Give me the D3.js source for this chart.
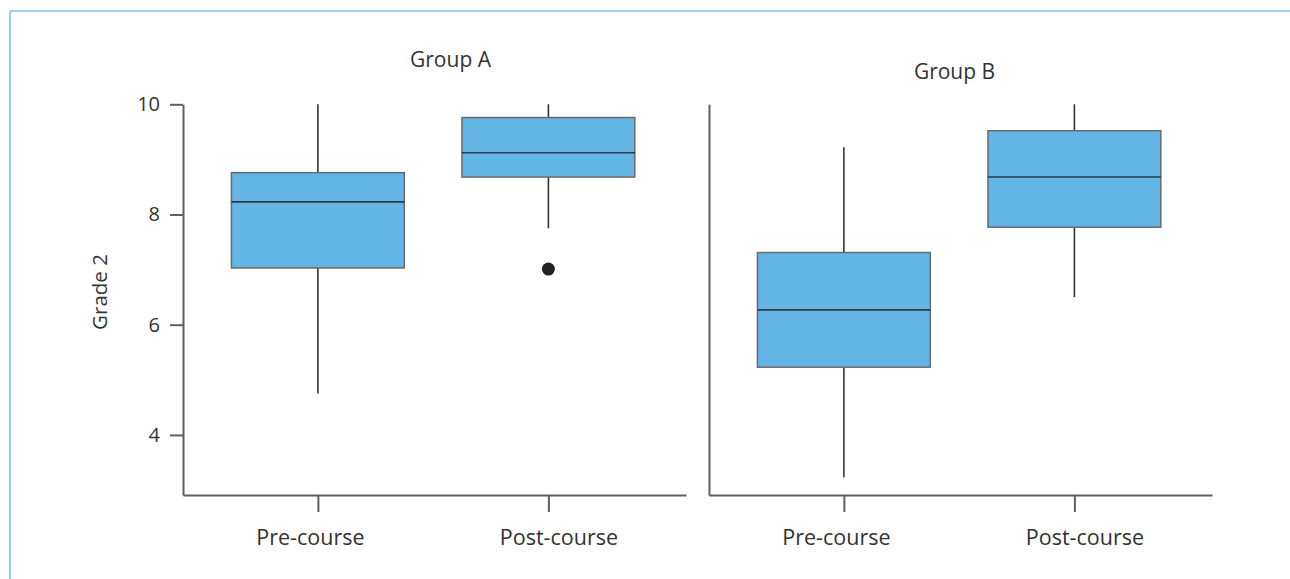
<!DOCTYPE html>
<html>
<head>
<meta charset="utf-8">
<script src="https://cdn.jsdelivr.net/npm/d3@7"></script>
<style>
  html, body { margin: 0; padding: 0; background: #fff; }
  svg { display: block; font-family: "Open Sans", "Noto Sans", sans-serif; }
</style>
</head>
<body>
<svg id="chart" width="1290" height="579"></svg>
<script>
// Course grades, summarised per group and course stage
const groups = ["Group A", "Group B"];
const stages = ["Pre-course", "Post-course"];
const yTicks = [4, 6, 8, 10];
const yLabel = "Grade 2";

// five-number summaries: [min whisker, Q1, median, Q3, max whisker]
const groupA = [
  [4.75, 7.03, 8.23, 8.76, 10.0],
  [7.75, 8.68, 9.12, 9.76, 10.0]
];
const groupB = [
  [3.23, 5.23, 6.27, 7.31, 9.22],
  [6.50, 7.77, 8.68, 9.52, 10.0]
];
// outlying observations: [stage index, value]
const outliersA = [[1, 7.01]];
const outliersB = [];

const panels = [
  { title: groups[0], stats: groupA, outliers: outliersA, x0: 183, x1: 686, titleDx: 16, titleY: 67, showTicks: true },
  { title: groups[1], stats: groupB, outliers: outliersB, x0: 709, x1: 1212, titleDx: -6, titleY: 79, showTicks: false }
];
// category labels sit slightly outward from their ticks
const labelDx = [-8, 10];

const svg = d3.select("#chart");
const textColor = "#333333";
const axisColor = "#5f5f5f";
const boxFill = "#62b5e5";

// outer frame lines
svg.append("line").attr("x1", 10).attr("x2", 1290).attr("y1", 11).attr("y2", 11)
  .attr("stroke", "#7cc2e8").attr("stroke-width", 1.5);
svg.append("line").attr("x1", 10).attr("x2", 10).attr("y1", 11).attr("y2", 579)
  .attr("stroke", "#7cc2e8").attr("stroke-width", 1.5);

const y = d3.scaleLinear().domain([2.91, 10]).range([495, 104.3]);

panels.forEach(p => {
  const g = svg.append("g");
  const x = d3.scalePoint().domain(stages).range([p.x0, p.x1]).padding(0.591).align(0.495);
  const boxW = x.step() * 0.75;

  // y axis
  const yAxis = d3.axisLeft(y).tickValues(p.showTicks ? yTicks : []).tickSize(13).tickSizeOuter(0).tickPadding(10);
  const ya = g.append("g").attr("transform", `translate(${p.x0},0)`).call(yAxis);
  ya.select(".domain").attr("stroke", axisColor).attr("stroke-width", 2);
  ya.selectAll(".tick line").attr("stroke", axisColor).attr("stroke-width", 2);
  ya.selectAll(".tick text").attr("fill", textColor).attr("font-size", 20)
    .attr("font-family", "'Open Sans', sans-serif");

  // x axis
  const xAxis = d3.axisBottom(x).tickSize(17).tickSizeOuter(0).tickPadding(18);
  const xa = g.append("g").attr("transform", `translate(0,${y.range()[0]})`).call(xAxis);
  xa.select(".domain").attr("stroke", axisColor).attr("stroke-width", 2);
  xa.selectAll(".tick line").attr("stroke", axisColor).attr("stroke-width", 2);
  xa.selectAll(".tick text").attr("fill", textColor).attr("font-size", 21.5)
    .attr("font-family", "'Open Sans', sans-serif")
    .attr("dx", (d, i) => labelDx[i]);

  // panel title
  g.append("text").attr("x", (p.x0 + p.x1) / 2 + p.titleDx).attr("y", p.titleY)
    .attr("text-anchor", "middle").attr("fill", textColor).attr("font-size", 21)
    .text(p.title);

  // boxes
  p.stats.forEach((s, i) => {
    const cx = x(stages[i]);
    const [lo, q1, med, q3, hi] = s;
    g.append("line").attr("x1", cx).attr("x2", cx).attr("y1", y(hi)).attr("y2", y(q3))
      .attr("stroke", "#333").attr("stroke-width", 1.6);
    g.append("line").attr("x1", cx).attr("x2", cx).attr("y1", y(q1)).attr("y2", y(lo))
      .attr("stroke", "#333").attr("stroke-width", 1.6);
    g.append("rect").attr("x", cx - boxW / 2).attr("width", boxW)
      .attr("y", y(q3)).attr("height", y(q1) - y(q3))
      .attr("fill", boxFill).attr("stroke", "#6a6a6a").attr("stroke-width", 1.5);
    g.append("line").attr("x1", cx - boxW / 2).attr("x2", cx + boxW / 2)
      .attr("y1", y(med)).attr("y2", y(med))
      .attr("stroke", "#2b3a44").attr("stroke-width", 1.6);
  });

  // outliers
  p.outliers.forEach(([i, v]) => {
    g.append("circle").attr("cx", x(stages[i])).attr("cy", y(v)).attr("r", 6.5)
      .attr("fill", "#222");
  });
});

// y axis title
svg.append("text")
  .attr("transform", "translate(107,292) rotate(-90)")
  .attr("text-anchor", "middle").attr("fill", textColor).attr("font-size", 20.5)
  .text(yLabel);
</script>
</body>
</html>
